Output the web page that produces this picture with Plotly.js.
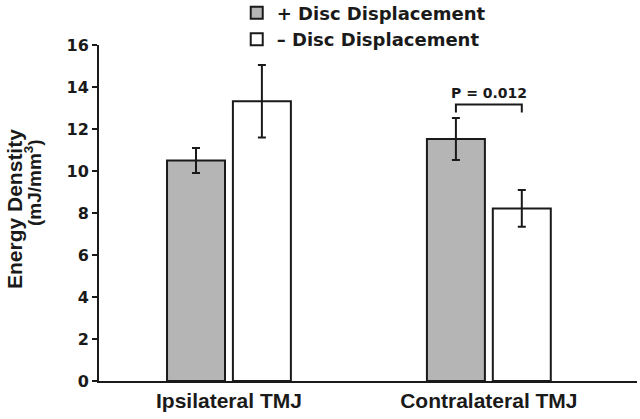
<!DOCTYPE html>
<html>
<head>
<meta charset="utf-8">
<script src="https://cdn.plot.ly/plotly-3.0.1.min.js"></script>
<style>html,body{margin:0;padding:0;background:#fff;}#chart{width:640px;height:419px;}</style>
</head>
<body>
<div id="chart"></div>
<script>
// ---- data ----
const categories = ["Ipsilateral TMJ", "Contralateral TMJ"];
const seriesNames = ["+ Disc Displacement", "– Disc Displacement"];
const withDD = [10.5, 11.52];
const withDDErr = [0.6, 1.0];
const withoutDD = [13.32, 8.22];
const withoutDDErr = [1.73, 0.87];
const yTicks = [0, 2, 4, 6, 8, 10, 12, 14, 16];
const pLabel = "P = 0.012";
const bracketTop = 13.17;
const bracketFoot = 12.79;
const pLabelY = 13.7;
const yTitleLine1 = "Energy Denstity";
const yTitleLine2 = "(mJ/mm<sup>3</sup>)";

const ink = "#1a1a1a";
const bargap = 0.493;
const off = (1 - bargap) / 4; // bar centre offset within group
const sansBold = {family: "Liberation Sans, Arial, sans-serif", weight: "bold", color: ink};
const dvBold = {family: "DejaVu Sans, sans-serif", weight: "bold", color: ink};

const traces = [
  {type: "bar", name: seriesNames[0], x: categories, y: withDD,
   marker: {color: "#b5b5b5", line: {color: ink, width: 2}},
   error_y: {type: "data", array: withDDErr, visible: true, color: ink, thickness: 2, width: 4}},
  {type: "bar", name: seriesNames[1], x: categories, y: withoutDD,
   marker: {color: "#ffffff", line: {color: ink, width: 2}},
   error_y: {type: "data", array: withoutDDErr, visible: true, color: ink, thickness: 2, width: 4}}
];

const layout = {
  width: 640, height: 419,
  margin: {l: 99, r: 3, t: 45, b: 38, autoexpand: false},
  paper_bgcolor: "#fff", plot_bgcolor: "#fff",
  barmode: "group", bargap: bargap, bargroupgap: 0.12,
  showlegend: true,
  legend: {x: 0.256, y: 1.150, xanchor: "left", yanchor: "top",
           font: Object.assign({size: 18}, dvBold), bgcolor: "rgba(0,0,0,0)",
           traceorder: "normal"},
  xaxis: {type: "category", range: [-0.5, 1.57], showline: true, linecolor: ink, linewidth: 2,
          ticks: "", showgrid: false, zeroline: false, fixedrange: true,
          tickfont: Object.assign({size: 21}, sansBold)},
  yaxis: {range: [0, 16], tickvals: yTicks, showline: true, linecolor: ink, linewidth: 2,
          ticks: "outside", ticklen: 5, tickwidth: 2, tickcolor: ink,
          showgrid: false, zeroline: false, fixedrange: true,
          tickfont: Object.assign({size: 16}, dvBold)},
  shapes: [
    {type: "path", xref: "x", yref: "y",
     path: "M" + (1 - off) + "," + bracketFoot + " L" + (1 - off) + "," + bracketTop +
           " L" + (1 + off) + "," + bracketTop + " L" + (1 + off) + "," + bracketFoot,
     line: {color: ink, width: 2}}
  ],
  annotations: [
    {x: 1, y: pLabelY, xref: "x", yref: "y", text: pLabel, showarrow: false,
     xanchor: "center", yanchor: "middle", font: Object.assign({size: 14}, dvBold)},
    {x: 0, y: 0.5, xref: "paper", yref: "paper", xshift: -85, yshift: 4, text: yTitleLine1,
     textangle: -90, showarrow: false, xanchor: "center", yanchor: "middle",
     font: Object.assign({size: 21}, sansBold)},
    {x: 0, y: 0.5, xref: "paper", yref: "paper", xshift: -66, yshift: 30, text: yTitleLine2,
     textangle: -90, showarrow: false, xanchor: "center", yanchor: "middle",
     font: Object.assign({size: 19}, sansBold)}
  ]
};

Plotly.newPlot("chart", traces, layout, {displayModeBar: false, staticPlot: true});
</script>
</body>
</html>
